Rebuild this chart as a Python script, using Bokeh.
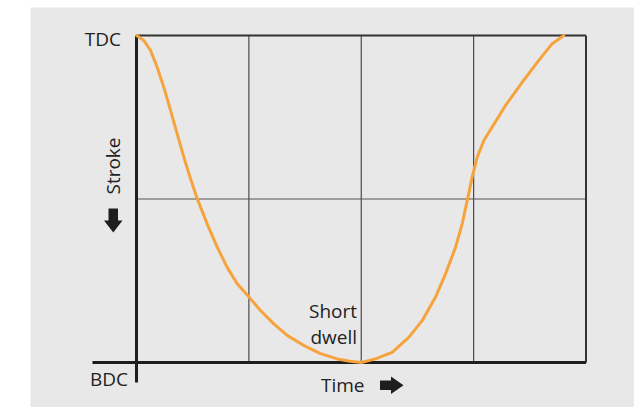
import math
from bokeh.plotting import figure
from bokeh.embed import file_html
from bokeh.resources import INLINE
from bokeh.core.properties import value

# ---- data (time in quarter-cycle units 0..4, stroke 0=BDC .. 1=TDC) ----
time_vals = [0.0, 0.036, 0.065, 0.125, 0.184, 0.243, 0.303, 0.362, 0.421, 0.481,
             0.540, 0.629, 0.718, 0.807, 0.896, 0.990, 1.103, 1.222, 1.341, 1.489,
             1.637, 1.786, 1.900, 2.0, 2.127, 2.275, 2.423, 2.542, 2.661, 2.750,
             2.839, 2.898, 2.943, 2.987, 3.032, 3.091, 3.165, 3.284, 3.432, 3.580,
             3.699, 3.802]
stroke_vals = [1.0, 0.992, 0.985, 0.954, 0.903, 0.842, 0.771, 0.699, 0.628, 0.562,
               0.501, 0.424, 0.353, 0.291, 0.241, 0.205, 0.159, 0.118, 0.083, 0.052,
               0.027, 0.011, 0.004, 0.0, 0.011, 0.031, 0.077, 0.128, 0.200, 0.271,
               0.352, 0.424, 0.495, 0.567, 0.628, 0.679, 0.720, 0.786, 0.857, 0.924,
               0.975, 1.0]
x_grid = [1, 2, 3]
y_grid = [0.5]
x_min, x_max = 0, 4
y_min, y_max = 0, 1
y_tick_labels = ["BDC", "TDC"]
x_label = "Time"
y_label = "Stroke"
note_lines = ["Short", "dwell"]

# ---- layout helpers (page pixels -> data) ----
PX0, PX1 = 136.0, 585.5   # x=0 and x=4
PY0, PY1 = 362.0, 35.0    # y=0 and y=1
kx = (PX1 - PX0) / (x_max - x_min)
ky = (PY0 - PY1) / (y_max - y_min)
def sx(px):
    return x_min + (px - PX0) / kx
def sy(py):
    return y_min + (PY0 - py) / ky

FRAME_L, FRAME_R, FRAME_T, FRAME_B = 30, 634, 7, 407
DY = -7  # text baseline correction

p = figure(width=FRAME_R, height=FRAME_B,
           x_range=(sx(FRAME_L), sx(FRAME_R)), y_range=(sy(FRAME_B), sy(FRAME_T)),
           output_backend="svg", toolbar_location=None,
           min_border_left=FRAME_L, min_border_right=0,
           min_border_top=FRAME_T, min_border_bottom=0)
p.axis.visible = False
p.grid.visible = False
p.outline_line_color = None
p.background_fill_color = "#e8e8e8"
p.border_fill_color = "white"

# grid lines
p.segment(x0=x_grid, y0=[y_min] * len(x_grid), x1=x_grid, y1=[y_max] * len(x_grid),
          line_color="#4a4a4a", line_width=1.2)
p.segment(x0=[x_min] * len(y_grid), y0=y_grid, x1=[x_max] * len(y_grid), y1=y_grid,
          line_color="#555555", line_width=1.2)
# top and right frame
p.segment(x0=[x_min, x_max], y0=[y_max, y_min], x1=[x_max, x_max], y1=[y_max, y_max],
          line_color="#333333", line_width=2)
# main axes (extended)
p.segment(x0=[sx(92)], y0=[y_min], x1=[x_max], y1=[y_min], line_color="#1e1e1e", line_width=3)
p.segment(x0=[x_min], y0=[sy(382)], x1=[x_min], y1=[y_max], line_color="#1e1e1e", line_width=3)

# curve
p.line(time_vals, stroke_vals, line_color="#f7a33d", line_width=3, line_join="round", line_cap="round")

font = value("Open Sans")
fs = "19px"
tc = "#222222"
p.text(x=[sx(120.5)], y=[sy(45.5 + DY)], text=[y_tick_labels[1]], text_font=font, text_font_size=fs,
       text_color=tc, text_align="right", text_baseline="alphabetic")
p.text(x=[sx(89.5)], y=[sy(385.5 + DY)], text=[y_tick_labels[0]], text_font=font, text_font_size=fs,
       text_color=tc, text_align="left", text_baseline="alphabetic")
p.text(x=[sx(320.5)], y=[sy(391.5 + DY)], text=[x_label], text_font=font, text_font_size=fs,
       text_color=tc, text_align="left", text_baseline="alphabetic")
p.text(x=[sx(112)], y=[sy(165.5)], text=[y_label], text_font=font, text_font_size=fs,
       text_color=tc, text_align="center", text_baseline="middle", angle=math.pi / 2)
p.text(x=[sx(356.5)] * 2, y=[sy(317.5 + DY), sy(343.3 + DY)], text=note_lines, text_font=font,
       text_font_size=fs, text_color=tc, text_align="right", text_baseline="alphabetic")

# arrows (decoration)
down_px = [(108, 208), (117.5, 208), (117.5, 220), (122, 220), (112.75, 232), (103.5, 220), (108, 220)]
p.patch([sx(a) for a, b in down_px], [sy(b) for a, b in down_px], fill_color="#1e1e1e", line_color=None)
right_px = [(379.5, 380), (390.5, 380), (390.5, 376), (403, 384.7), (390.5, 393.4), (390.5, 389.4), (379.5, 389.4)]
p.patch([sx(a) for a, b in right_px], [sy(b) for a, b in right_px], fill_color="#1e1e1e", line_color=None)

open("out.html", "w").write(file_html(p, INLINE))
